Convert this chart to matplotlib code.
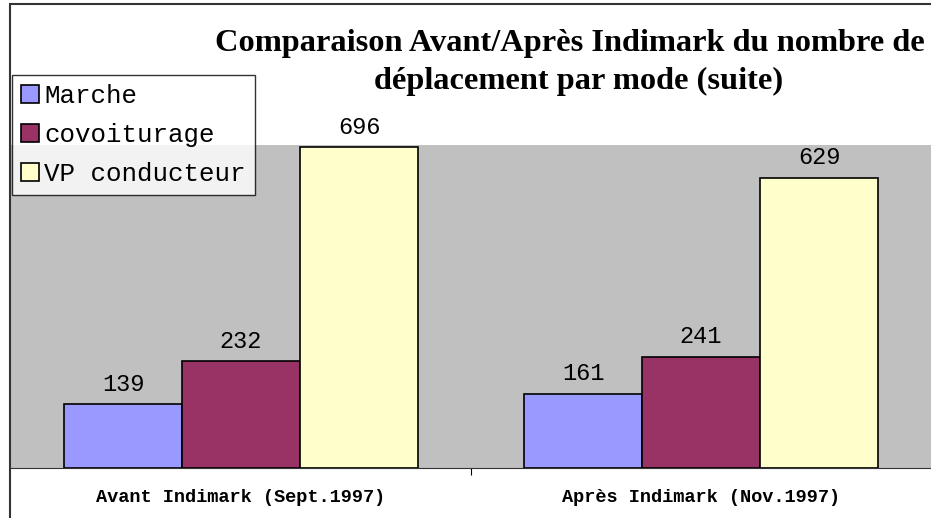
import numpy as np
import matplotlib
matplotlib.use("Agg")
from matplotlib import pyplot as plt
from matplotlib.patches import Rectangle

# donnees
periodes = ["Avant Indimark (Sept.1997)", "Après Indimark (Nov.1997)"]
modes = ["Marche", "covoiturage", "VP conducteur"]
marche = [139, 161]
covoiturage = [232, 241]
vp_conducteur = [696, 629]
couleurs = ["#9999FF", "#993366", "#FFFFCC"]

W, H = 931, 518
fig = plt.figure(figsize=(W / 100, H / 100), dpi=100, facecolor="w")
ax = fig.add_axes([11 / W, (H - 468) / H, 920 / W, (468 - 145) / H])
ax.set_facecolor("#C0C0C0")

x = np.arange(len(periodes))
larg = 118 / 460
series = [marche, covoiturage, vp_conducteur]
for i, (vals, nom, c) in enumerate(zip(series, modes, couleurs)):
    pos = x + (i - 1) * larg
    bars = ax.bar(pos, vals, width=larg, color=c, edgecolor="black", linewidth=1.2, label=nom)
    for b, v in zip(bars, vals):
        ax.annotate(str(v), (b.get_x() + b.get_width() / 2, v), xytext=(0, 6),
                    textcoords="offset points", ha="center", va="bottom",
                    family="Liberation Mono", fontsize=17)

ax.set_xlim(-0.5, 1.5)
ax.set_ylim(0, 700)
ax.set_yticks([])
ax.set_xticks([0.5])
ax.set_xticklabels([])
ax.tick_params(axis="x", length=5, direction="out")
for s in ["top", "right", "left"]:
    ax.spines[s].set_visible(False)
ax.spines["bottom"].set_color("#333333")
for i, p in enumerate(periodes):
    ax.annotate(p, (x[i], 0), xytext=(0, -30), textcoords="offset pixels",
                ha="center", va="center", family="Liberation Mono",
                fontweight="bold", fontsize=13.4)

leg = ax.legend(loc="upper left", bbox_to_anchor=(12 / W, 1 - 75 / H), bbox_transform=fig.transFigure,
                prop={"family": "Liberation Mono", "size": 18.6}, frameon=True, fancybox=False,
                handlelength=0.7, handleheight=0.7, handletextpad=0.2, borderpad=0.35,
                labelspacing=0.58, borderaxespad=0)
leg.get_frame().set_edgecolor("black")
leg.get_frame().set_linewidth(1)

fig.text(570 / W, 1 - 51 / H, "Comparaison Avant/Après Indimark du nombre de", ha="center", va="baseline",
         family="Liberation Serif", fontweight="bold", fontsize=23.3)
fig.text(579 / W, 1 - 89 / H, "déplacement par mode (suite)", ha="center", va="baseline",
         family="Liberation Serif", fontweight="bold", fontsize=23.3)

fig.patches.append(Rectangle((10 / W, -0.1), 1, 1.1 - 4 / H, transform=fig.transFigure,
                             fill=False, edgecolor="#333333", linewidth=1.5))

plt.savefig("out.png", dpi=100)
